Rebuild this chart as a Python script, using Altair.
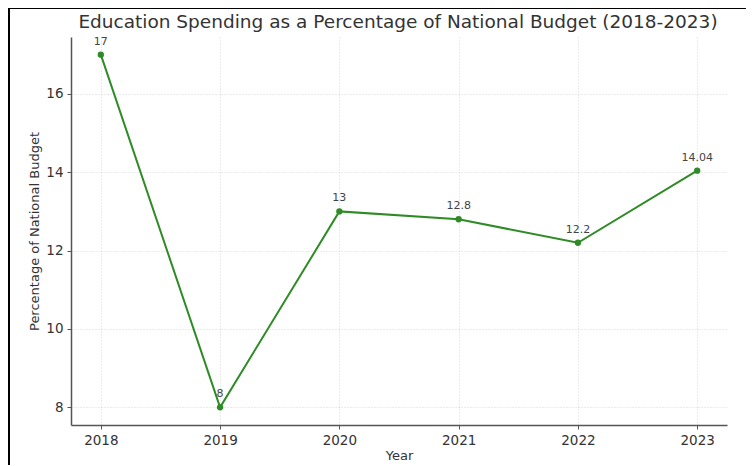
import altair as alt
import pandas as pd

years = [2018, 2019, 2020, 2021, 2022, 2023]
values = [17, 8, 13, 12.8, 12.2, 14.04]
labels = ["17", "8", "13", "12.8", "12.2", "14.04"]
y_ticks = [8, 10, 12, 14, 16]
title_text = "Education Spending as a Percentage of National Budget (2018-2023)"

df = pd.DataFrame({"Year": years, "Value": values, "Label": labels})

FONT = "DejaVu Sans"
GREEN = "#2e8b26"

x = alt.X("Year:Q", scale=alt.Scale(domain=[2017.75, 2023.25], nice=False, zero=False),
          axis=alt.Axis(values=years, format="d", title="Year"))
y = alt.Y("Value:Q", scale=alt.Scale(domain=[7.55, 17.45], nice=False, zero=False),
          axis=alt.Axis(values=y_ticks, title="Percentage of National Budget"))

base = alt.Chart(df).encode(x=x, y=y)

line = base.mark_line(color=GREEN, strokeWidth=2)
pts = base.mark_circle(color=GREEN, size=40, opacity=1)
txt = base.mark_text(dy=-13, fontSize=11, color="#444444", font=FONT).encode(text="Label:N")

one = pd.DataFrame({"k": [0]})
title_mark = alt.Chart(one).mark_text(
    text=title_text, font=FONT, fontSize=18.5, color="#333333", baseline="middle", align="center"
).encode(x=alt.value(327), y=alt.value(-15))

# screenshot frame (decorative black edges at top and left)
frame_left = alt.Chart(one).mark_rect(color="black").encode(
    x=alt.value(-63), x2=alt.value(-61), y=alt.value(-29), y2=alt.value(430))
frame_top = alt.Chart(one).mark_rect(color="black").encode(
    x=alt.value(-63), x2=alt.value(675), y=alt.value(-29), y2=alt.value(-28))

chart = alt.layer(frame_left, frame_top, title_mark, line, pts, txt).properties(
    width=656, height=388,
    autosize=alt.AutoSizeParams(type="none"),
    padding={"left": 63, "top": 29, "right": 19, "bottom": 40},
).configure_view(stroke=None).configure_axis(
    labelFont=FONT, titleFont=FONT, labelFontSize=13.5, titleFontSize=13,
    labelColor="#333333", titleColor="#333333", titleFontWeight="normal",
    domainColor="#555555", domainWidth=1.5, tickColor="#555555", tickSize=4,
    gridColor="#cccccc", gridDash=[1, 2], gridWidth=0.8, labelPadding=4,
).configure_axisY(titlePadding=4).configure_axisX(titlePadding=3)

chart.save("out.html", embed_options={"renderer": "svg", "actions": False})
